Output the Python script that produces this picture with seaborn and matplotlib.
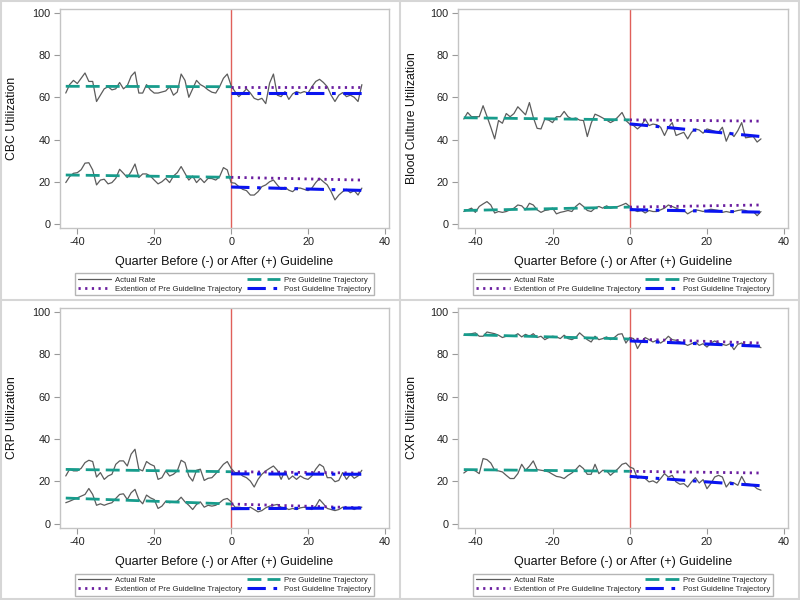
import numpy as np
import matplotlib.pyplot as plt
import seaborn as sns
from matplotlib.lines import Line2D

quarters = np.arange(-43, 35)

# actual quarterly rates, q = -43 .. 34
cbc_high = [
    62, 66, 68, 66.5, 69, 71.5, 67.5, 67.5, 58, 61,
    64, 65, 63.5, 64, 67, 64, 65.5, 70, 72, 62,
    62, 66, 63.5, 62, 62, 62.5, 63, 65, 61, 62.5,
    71, 68, 60, 64, 68, 66, 65, 63.5, 62.4, 62,
    65, 69, 71, 65.5, 62.7, 60.3, 62, 64, 62, 59.5,
    58.8, 59.5, 57, 66.7, 71, 61, 60.3, 62.7, 59, 61.6,
    62.7, 62, 62.7, 62, 65, 67.5, 68.5, 67, 65, 61,
    58, 61, 62.2, 60.3, 61, 60, 58, 66]
cbc_low = [
    19.6, 22.4, 24, 24.3, 25.7, 28.8, 29, 25.6, 18.5, 20.8,
    21.2, 19, 19.6, 21.6, 25.9, 24, 22, 24.8, 28.4, 22,
    23.7, 23.7, 22.7, 20.8, 19, 20, 21.6, 19.6, 22.7, 24.3,
    27.2, 24, 20.8, 22.7, 19.6, 21.6, 19.6, 21.6, 21.5, 20.8,
    22.4, 26.7, 25.6, 19.6, 19.3, 17.7, 16.4, 15.8, 13.7, 13.7,
    15.3, 17.7, 18.5, 20, 20.8, 18.5, 16.4, 17.4, 16, 15.3,
    17, 17, 16.4, 15.8, 17, 19.6, 21.6, 20, 18.5, 15.3,
    11.4, 13.7, 15.3, 16.4, 14.8, 15.8, 13.7, 17]
bc_high = [
    49.7, 52.8, 50.8, 50.8, 50.8, 56, 51, 45.8, 40.3, 49,
    47.7, 52.3, 50.8, 52.3, 55.5, 53.6, 51.7, 57.5, 50.5, 45.3,
    45, 49.7, 49.2, 48, 50.8, 50.8, 53.3, 50.8, 49.7, 50.2,
    49.2, 49, 41.4, 47.7, 52, 51.2, 50.2, 49.2, 48, 49,
    50.8, 52.8, 49, 47.3, 46.6, 45, 46.6, 49.7, 46.6, 47.3,
    47, 45.8, 41.9, 45.8, 48, 41.9, 42.7, 43.4, 40.3, 43.4,
    45, 44.5, 43, 45, 44.5, 43.9, 43.4, 45.8, 39.2, 43.4,
    41.4, 44.2, 48, 40.8, 41.1, 41.4, 38.8, 40.3]
bc_low = [
    5.9, 6.7, 7.5, 5.5, 8.3, 9.5, 10.6, 9, 5.2, 5.9,
    5.5, 5.9, 6.7, 7.5, 9, 8.6, 6.7, 9.8, 9, 6.7,
    5.5, 6.4, 6.7, 7.5, 4.8, 5.5, 5.9, 6.4, 5.9, 8.3,
    9.8, 8.3, 6.4, 5.9, 7.5, 8.3, 7.5, 8.6, 7.5, 8,
    8.3, 9, 9.8, 8.3, 6.7, 5.9, 6.4, 5.2, 6.4, 5.9,
    5.9, 6.7, 7.5, 9, 8.3, 7.5, 6.7, 6.4, 4.8, 5.9,
    6.7, 6.4, 5.9, 6.4, 7, 6.7, 6.4, 5.5, 5.9, 5.5,
    5.9, 6.4, 6.7, 6.4, 5.5, 5.9, 3.9, 5.9]
crp_high = [
    22.6, 25.8, 25, 25, 26.2, 28.9, 30, 29.4, 22.1, 24.2,
    21, 22.6, 23.4, 28.1, 29.7, 29.7, 27.3, 32.9, 35.2, 25.8,
    25, 29.4, 28.1, 27.3, 21, 21.8, 25, 22.6, 23.4, 25,
    30, 28.9, 22.6, 20.2, 25.3, 25.8, 20.5, 21.5, 21.8, 23.7,
    25.8, 28.1, 29.4, 26.2, 24.2, 24.2, 22.6, 21.8, 20.2, 17.4,
    21, 23.4, 25, 26.2, 27.3, 25.3, 21, 25, 21, 22.6,
    21, 22.6, 21.5, 21, 22.6, 25.8, 28.1, 26.9, 21.8, 21.8,
    19.9, 20.5, 24.2, 21, 23.4, 21.5, 22.6, 25.3]
crp_low = [
    10, 10.7, 11.5, 12.3, 13.1, 13.9, 16.7, 13.9, 8.8, 9.5,
    8.8, 9.5, 10, 12, 13.9, 14.2, 11.5, 14.7, 16.3, 11.5,
    9.5, 13.6, 12.3, 11.5, 7.3, 8.4, 10.7, 10, 10.4, 10.7,
    12.6, 10.4, 8.8, 6.8, 9.2, 10.4, 7.9, 8.8, 8.4, 8.8,
    10, 11.5, 12, 10.4, 7.9, 7.9, 7.6, 7.3, 7.9, 6.8,
    5.7, 6.3, 7.6, 8.4, 8.8, 9.2, 7.9, 7.6, 6.8, 7.3,
    6.8, 7.6, 7.9, 7.3, 6.8, 8.4, 11.5, 9.5, 7.3, 6.8,
    6.3, 6.8, 7.9, 7.3, 7.6, 6.8, 7.6, 7.9]
cxr_high = [
    88.9, 89.3, 89.6, 90, 88.4, 88.4, 90.4, 90, 89.6, 88.9,
    87.8, 88.4, 88.7, 88.4, 89.6, 88.1, 89.3, 88.4, 89.6, 87.8,
    88.4, 86.8, 87.8, 88.4, 88.1, 87.3, 88.9, 87.3, 86.8, 87.8,
    90, 88.4, 86.8, 85.7, 88.4, 86.8, 87.3, 88.1, 86.8, 87.8,
    89.3, 89.6, 85.2, 87.8, 87.3, 82.6, 85.7, 87.8, 86.8, 85.7,
    86.5, 85.2, 86.5, 88.4, 86.8, 86.5, 85.7, 84.9, 84.1, 84.9,
    85.7, 84.1, 84.9, 83.3, 85.2, 86.2, 85.2, 84.6, 84.1, 84.9,
    82.1, 84.6, 85.2, 84.1, 84.6, 83.7, 84.1, 83]
cxr_low = [
    24, 25.3, 25.6, 25, 23.7, 30.8, 30.3, 28.7, 25.3, 25,
    24.5, 22.9, 21.4, 21.4, 23.7, 28.1, 25.3, 27.2, 29.7, 25.6,
    25.3, 25, 24.5, 23.4, 22.4, 22.1, 21.4, 22.9, 24, 25.6,
    27.6, 26.1, 23.4, 23.4, 28.1, 23.7, 25.3, 25, 22.9, 24.5,
    26.1, 28.1, 28.7, 26.8, 26.1, 21.4, 22.4, 21.4, 19.8, 20.3,
    19.3, 21.4, 23.7, 22.1, 22.9, 19.8, 18.7, 19, 17.4, 19.8,
    21.8, 19.3, 20.9, 16.6, 19, 22.1, 22.9, 22.1, 17.4, 19.8,
    19.3, 18.2, 22.4, 19, 18.7, 18.2, 16.6, 15.9]

# trend lines: [pre start (q=-43), pre end (q=0), extension end (q=34), post start (q=0), post end (q=34)]
cbc_trend_high = [65.2, 65.0, 65.0, 62.0, 62.0]
cbc_trend_low = [23.2, 22.1, 20.8, 17.5, 15.9]
bc_trend_high = [50.3, 49.3, 48.7, 47.4, 41.4]
bc_trend_low = [6.4, 8.0, 9.0, 6.8, 5.6]
crp_trend_high = [25.7, 24.6, 24.0, 23.6, 23.4]
crp_trend_low = [12.2, 9.4, 7.6, 7.2, 7.5]
cxr_trend_high = [89.2, 87.1, 85.2, 86.2, 83.7]
cxr_trend_low = [25.6, 24.8, 24.0, 22.4, 18.0]

panel_titles = ["CBC Utilization", "Blood Culture Utilization", "CRP Utilization", "CXR Utilization"]

sns.set_theme(style="white")
plt.rcParams["font.family"] = ["Liberation Sans", "DejaVu Sans"]
plt.rcParams["axes.unicode_minus"] = False

ACTUAL_C = "#5c5c5c"
PRE_C = "#179c8c"
EXT_C = "#6b1fa0"
POST_C = "#0a14f0"


def draw_panel(ax, ylabel, series, trends, ylab_x):
    for i, (vals, tr) in enumerate(zip(series, trends)):
        first = i == 0
        sns.lineplot(x=quarters, y=vals, ax=ax, color=ACTUAL_C, linewidth=0.9,
                     label="Actual Rate" if first else "_nolegend_")
        sns.lineplot(x=[0, 34], y=[tr[1], tr[2]], ax=ax, color=EXT_C, linewidth=2.0,
                     linestyle=(0, (0.8, 1.6)),
                     label="Extention of Pre Guideline Trajectory" if first else "_nolegend_")
        sns.lineplot(x=[-43, 0], y=[tr[0], tr[1]], ax=ax, color=PRE_C, linewidth=2.0,
                     linestyle=(0, (5, 2.2)),
                     label="Pre Guideline Trajectory" if first else "_nolegend_")
        sns.lineplot(x=[0, 34], y=[tr[3], tr[4]], ax=ax, color=POST_C, linewidth=2.2,
                     linestyle=(0, (6, 2.5, 1.2, 2.5)),
                     label="Post Guideline Trajectory" if first else "_nolegend_")
    ax.axvline(0, color="#e0605a", linewidth=1.0, zorder=1)
    ax.set_xlim(-44.5, 41)
    ax.set_ylim(-1.9, 101.8)
    ax.set_xticks([-40, -20, 0, 20, 40])
    ax.set_yticks([0, 20, 40, 60, 80, 100])
    ax.tick_params(axis="both", which="both", bottom=True, left=True, length=4.3, width=0.8,
                   color="#9a9a9a", labelsize=7.8, labelcolor="#222222", pad=2.5)
    for sp in ax.spines.values():
        sp.set_color("#c4c4c4")
        sp.set_linewidth(1.0)
    ax.set_ylabel(ylabel, fontsize=8.8, color="#111111")
    ax.yaxis.set_label_coords(ylab_x, 0.5)
    ax.set_xlabel("Quarter Before (-) or After (+) Guideline", fontsize=9, color="#111111", labelpad=6)
    handles, labels = ax.get_legend_handles_labels()
    order = ["Actual Rate", "Extention of Pre Guideline Trajectory",
             "Pre Guideline Trajectory", "Post Guideline Trajectory"]
    hmap = dict(zip(labels, handles))
    ax.legend([hmap[k] for k in order], order, ncol=2, loc="upper center",
              bbox_to_anchor=(0.5, -0.19), fontsize=5.6, frameon=True, fancybox=False,
              edgecolor="#b5b5b5", framealpha=1, handlelength=4.3, columnspacing=0.6,
              borderpad=0.35, labelspacing=0.2, handletextpad=0.5)


fig = plt.figure(figsize=(8, 6), dpi=100)
fig.patch.set_facecolor("white")
positions = [
    [0.075, 0.620, 0.411, 0.365],
    [0.5725, 0.620, 0.4125, 0.365],
    [0.075, 0.120, 0.411, 0.367],
    [0.5725, 0.120, 0.4125, 0.367],
]
label_x = [-0.129, -0.12, -0.129, -0.12]
panel_series = [(cbc_high, cbc_low), (bc_high, bc_low), (crp_high, crp_low), (cxr_high, cxr_low)]
panel_trends = [(cbc_trend_high, cbc_trend_low), (bc_trend_high, bc_trend_low),
                (crp_trend_high, crp_trend_low), (cxr_trend_high, cxr_trend_low)]

for pos, title, ser, trd, lx in zip(positions, panel_titles, panel_series, panel_trends, label_x):
    ax = fig.add_axes(pos)
    ax.set_facecolor("white")
    draw_panel(ax, title, ser, trd, lx)

# panel dividers
div_c = "#d6d6d6"
fig.add_artist(Line2D([0.4995, 0.4995], [0, 1], transform=fig.transFigure, color=div_c, linewidth=1.5))
fig.add_artist(Line2D([0, 1], [0.4995, 0.4995], transform=fig.transFigure, color=div_c, linewidth=1.5))
for xs, ys in [([0, 1], [0.001, 0.001]), ([0, 1], [0.999, 0.999]),
               ([0.001, 0.001], [0, 1]), ([0.999, 0.999], [0, 1])]:
    fig.add_artist(Line2D(xs, ys, transform=fig.transFigure, color=div_c, linewidth=1.5))

fig.savefig("out.png", dpi=100)
